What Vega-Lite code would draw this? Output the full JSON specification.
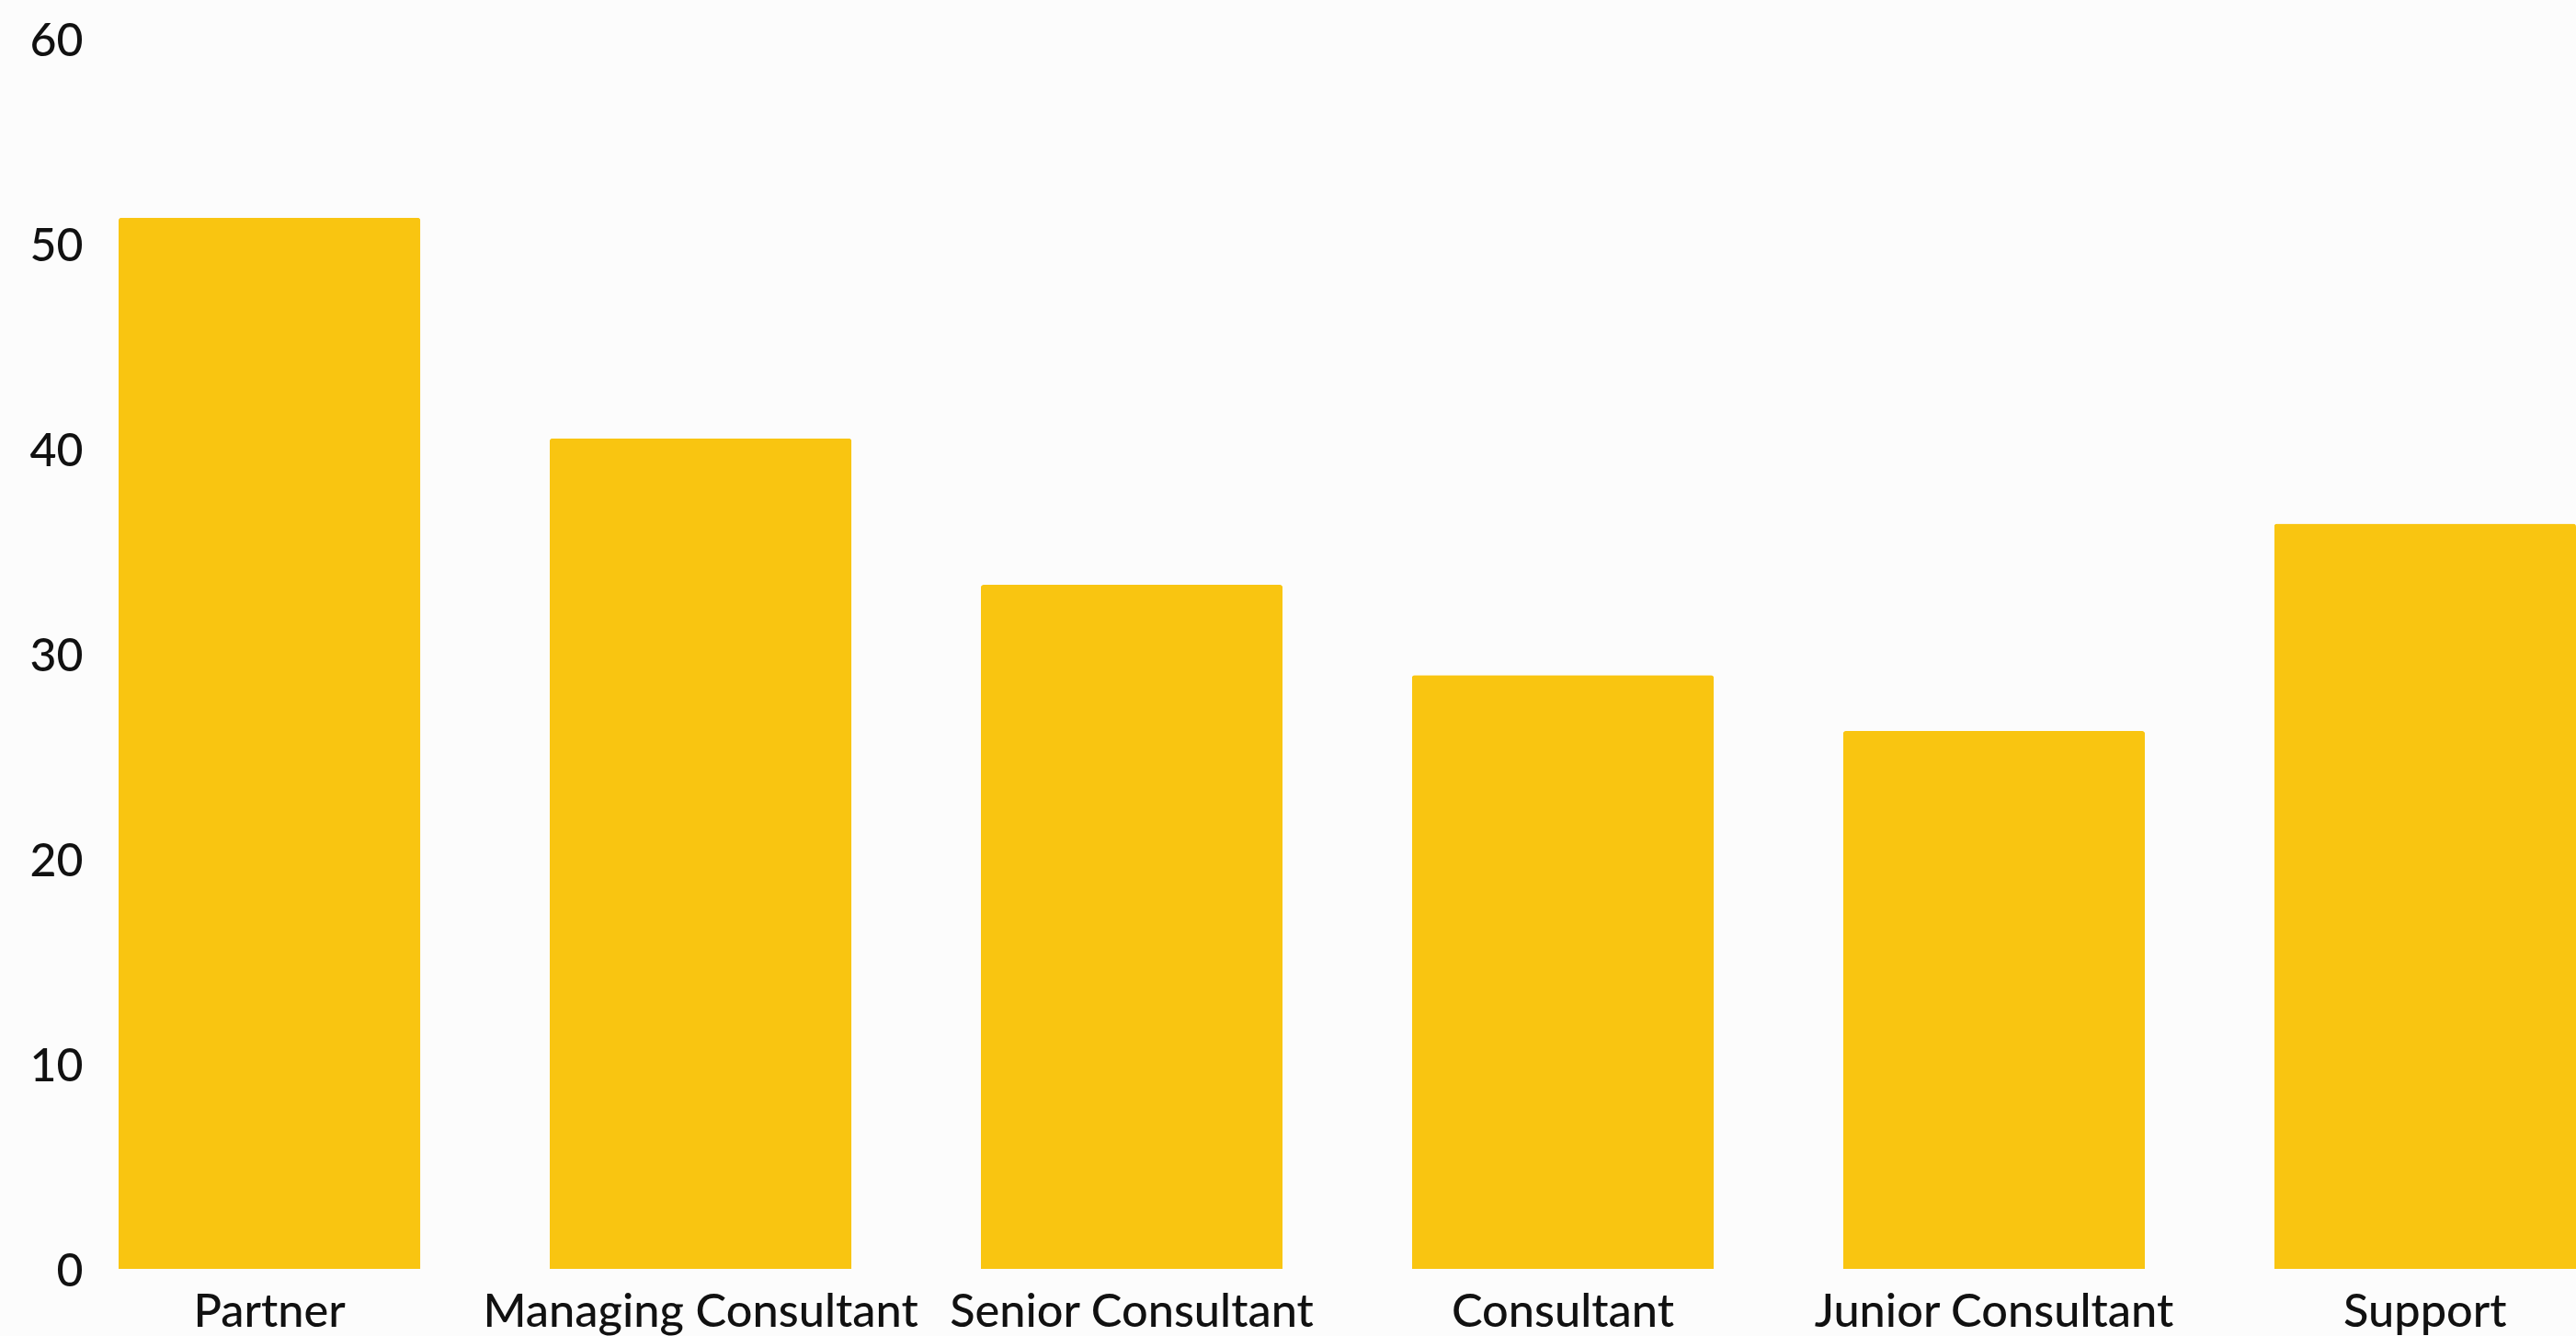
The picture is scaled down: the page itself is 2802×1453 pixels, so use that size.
{
  "$schema": "https://vega.github.io/schema/vega-lite/v6.json",
  "autosize": {"type": "none"},
  "width": 2673,
  "height": 1338,
  "padding": {"left": 129, "top": 42, "right": 0, "bottom": 73},
  "background": "#fcfcfc",
  "config": {"view": {"stroke": null}},
  "data": {
    "values": [
      {"role": "Partner", "value": 51.27},
      {"role": "Managing Consultant", "value": 40.51},
      {"role": "Senior Consultant", "value": 33.36},
      {"role": "Consultant", "value": 28.96},
      {"role": "Junior Consultant", "value": 26.23},
      {"role": "Support", "value": 36.35}
    ]
  },
  "mark": {"type": "bar", "color": "#F9C511", "cornerRadiusTopLeft": 3, "cornerRadiusTopRight": 3},
  "encoding": {
    "x": {
      "field": "role", "type": "nominal", "sort": null,
      "scale": {"paddingInner": 0.3, "paddingOuter": 0},
      "axis": {"title": null, "labelAngle": 0, "domain": false, "ticks": false, "labelFont": "Lato", "labelFontSize": 50.5, "labelFontWeight": 500, "labelLimit": 0, "labelColor": "#111111", "labelBaseline": "middle", "labelPadding": 47, "grid": false}
    },
    "y": {
      "field": "value", "type": "quantitative",
      "scale": {"domain": [0, 60], "nice": false},
      "axis": {"title": null, "values": [0, 10, 20, 30, 40, 50, 60], "domain": false, "ticks": false, "grid": false, "labelFont": "Lato", "labelFontSize": 50, "labelFontWeight": 500, "labelColor": "#111111", "labelPadding": 39, "labelBaseline": "middle", "labelOffset": 3}
    }
  }
}
